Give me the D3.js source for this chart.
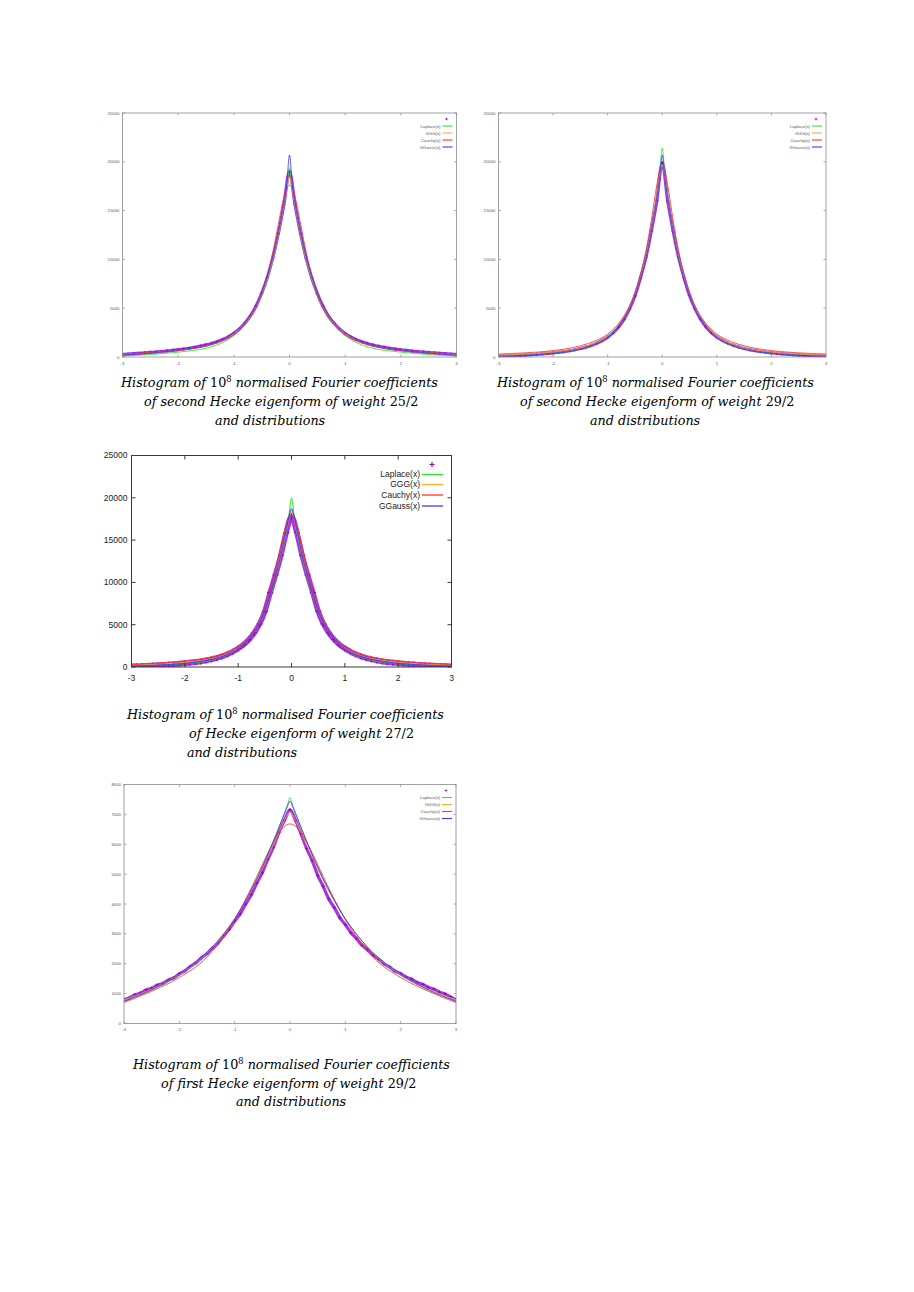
<!DOCTYPE html>
<html><head><meta charset="utf-8">
<script src="https://cdn.jsdelivr.net/npm/d3@7"></script>
<style>body{margin:0;background:#fff}</style>
</head><body>
<svg id="c" width="914" height="1292" xmlns="http://www.w3.org/2000/svg"></svg>
<script>
// ---------- data ----------
const xTicks = [-3,-2,-1,0,1,2,3];
const yTicksA = [0,5000,10000,15000,20000,25000];
const yTicksB = [0,1000,2000,3000,4000,5000,6000,7000,8000];
const seriesNames = ["Laplace(x)","GGG(x)","Cauchy(x)","GGauss(x)"];

const histX = [-3,-2.9,-2.8,-2.7,-2.6,-2.5,-2.4,-2.3,-2.2,-2.1,-2,-1.9,-1.8,-1.7,-1.6,-1.5,-1.4,-1.3,-1.2,-1.1,-1,-0.9,-0.8,-0.7,-0.6,-0.5,-0.4,-0.3,-0.2,-0.1,0,0.1,0.2,0.3,0.4,0.5,0.6,0.7,0.8,0.9,1,1.1,1.2,1.3,1.4,1.5,1.6,1.7,1.8,1.9,2,2.1,2.2,2.3,2.4,2.5,2.6,2.7,2.8,2.9,3];
const curveX = [-3,-2.5,-2,-1.5,-1.25,-1,-0.75,-0.6,-0.45,-0.3,-0.2,-0.1,-0.05,0,0.05,0.1,0.2,0.3,0.45,0.6,0.75,1,1.25,1.5,2,2.5,3];

// chart 1: second Hecke eigenform, weight 25/2
const hist1 = [260,300,345,385,425,470,515,565,620,680,750,820,900,1000,1110,1240,1390,1570,1790,2060,2420,2870,3480,4230,5230,6530,8130,10150,12650,15650,19000,15600,12600,10100,8100,6500,5200,4200,3450,2850,2400,2050,1780,1560,1380,1230,1100,990,890,810,740,670,610,560,510,460,420,380,340,300,270];
const laplace1 = [110,250,500,900,1350,2200,3650,5100,7100,9900,12400,15500,17300,19400,17300,15500,12400,9900,7100,5100,3650,2200,1350,900,500,250,110];
const ggg1 = [250,420,700,1180,1600,2400,3850,5200,7300,10100,12600,15600,17200,18400,17200,15600,12600,10100,7300,5200,3850,2400,1600,1180,700,420,250];
const cauchy1 = [310,450,680,1120,1550,2300,3700,5100,7300,10700,13600,16400,17300,17600,17300,16400,13600,10700,7300,5100,3700,2300,1550,1120,680,450,310];
const ggauss1 = [200,400,720,1200,1650,2500,3900,5300,7400,10200,12700,15700,17600,20700,17600,15700,12700,10200,7400,5300,3900,2500,1650,1200,720,400,200];

// chart 2: second Hecke eigenform, weight 29/2
const hist2 = [70,95,115,135,160,195,235,275,315,365,425,485,555,645,745,865,1010,1190,1410,1690,2040,2490,3080,3880,4930,6270,8080,10180,12880,15980,19900,16000,12900,10200,8100,6300,4950,3900,3100,2500,2050,1700,1420,1200,1020,870,750,650,560,490,430,370,320,280,240,200,170,140,120,100,80];
const laplace2 = [130,230,420,800,1250,2050,3600,5000,7200,10200,13000,16500,18600,21400,18600,16500,13000,10200,7200,5000,3600,2050,1250,800,420,230,130];
const ggg2 = [200,320,520,950,1400,2150,3700,5100,7300,10300,13000,16300,18300,19700,18300,16300,13000,10300,7300,5100,3700,2150,1400,950,520,320,200];
const cauchy2 = [300,430,650,1150,1600,2350,3800,5200,7400,10800,14000,17600,19000,19400,19000,17600,14000,10800,7400,5200,3800,2350,1600,1150,650,430,300];
const ggauss2 = [70,180,380,800,1250,2000,3550,4950,7100,10100,12900,16300,18200,20700,18200,16300,12900,10100,7100,4950,3550,2000,1250,800,380,180,70];

// chart 3: Hecke eigenform, weight 27/2
const hist3 = [75,95,115,145,175,205,245,285,325,375,435,495,565,655,765,895,1055,1250,1500,1810,2190,2640,3240,4040,5080,6580,8780,10880,13180,15880,17800,15900,13200,10900,8800,6600,5100,4050,3250,2650,2200,1820,1510,1260,1060,900,770,660,570,500,440,380,330,290,250,210,180,150,120,100,80];
const laplace3 = [110,210,400,850,1300,2150,3700,5200,7400,10500,13000,16000,17800,20000,17800,16000,13000,10500,7400,5200,3700,2150,1300,850,400,210,110];
const ggg3 = [210,330,540,980,1450,2250,3800,5300,7600,10800,13300,16100,17500,18300,17500,16100,13300,10800,7600,5300,3800,2250,1450,980,540,330,210];
const cauchy3 = [320,470,720,1200,1650,2400,3850,5400,7800,11200,14100,16700,17600,17900,17600,16700,14100,11200,7800,5400,3850,2400,1650,1200,720,470,320];
const ggauss3 = [90,210,420,900,1350,2150,3700,5200,7500,10700,13200,16200,17700,18700,17700,16200,13200,10700,7500,5200,3700,2150,1350,900,420,210,90];

// chart 4: first Hecke eigenform, weight 29/2
const hist4 = [800,860,960,1020,1120,1180,1280,1340,1450,1530,1660,1760,1910,2030,2200,2340,2530,2700,2930,3150,3430,3670,4000,4310,4700,5050,5500,5900,6400,6800,7150,6800,6350,5860,5460,4960,4590,4170,3880,3540,3310,3040,2850,2620,2470,2290,2160,2000,1890,1750,1670,1550,1480,1370,1310,1210,1150,1050,990,890,790];
const laplace4 = [760,1120,1620,2350,2870,3500,4300,4850,5450,6100,6570,7050,7300,7560,7300,7050,6570,6100,5450,4850,4300,3500,2870,2350,1620,1120,760];
const ggg4 = [790,1150,1640,2360,2870,3500,4280,4800,5380,5980,6400,6800,6980,7080,6980,6800,6400,5980,5380,4800,4280,3500,2870,2360,1640,1150,790];
const cauchy4 = [700,1080,1540,2220,2780,3480,4350,4920,5520,6080,6390,6600,6660,6680,6660,6600,6390,6080,5520,4920,4350,3480,2780,2220,1540,1080,700];
const ggauss4 = [740,1130,1640,2370,2880,3500,4290,4830,5440,6100,6560,7020,7250,7450,7250,7020,6560,6100,5440,4830,4290,3500,2880,2370,1640,1130,740];

const caption1 = ["second Hecke eigenform of weight ","25/2"];
const caption2 = ["second Hecke eigenform of weight ","29/2"];
const caption3 = ["Hecke eigenform of weight ","27/2"];
const caption4 = ["first Hecke eigenform of weight ","29/2"];

// ---------- styles ----------
const colors = ["#2ee62e","#ffaa2a","#ff3434","#3b3bff"];
const purple = "#9400d3";

const svg = d3.select("#c");

const panels = [
  {box:[122.5,113,456.5,357], yMax:25000, yTicks:yTicksA, big:false, hist:hist1, curves:[laplace1,ggg1,cauchy1,ggauss1],
   cap:caption1, capPos:[[121,387],[144,406],[215,425]]},
  {box:[498.5,113,826,357], yMax:25000, yTicks:yTicksA, big:false, hist:hist2, curves:[laplace2,ggg2,cauchy2,ggauss2],
   cap:caption2, capPos:[[497,387],[520,406],[590,425]]},
  {box:[131.5,455.5,451.5,667], yMax:25000, yTicks:yTicksA, big:true, hist:hist3, curves:[laplace3,ggg3,cauchy3,ggauss3],
   cap:caption3, capPos:[[127,719],[189,738],[187,757]]},
  {box:[124,784.5,456,1023.5], yMax:8000, yTicks:yTicksB, big:false, hist:hist4, curves:[laplace4,ggg4,cauchy4,ggauss4],
   cap:caption4, capPos:[[133,1069],[161,1088],[236,1106]]}
];

panels.forEach((p,pi) => {
  const [x0,y0,x1,y1] = p.box;
  const x = d3.scaleLinear().domain([-3,3]).range([x0,x1]);
  const y = d3.scaleLinear().domain([0,p.yMax]).range([y1,y0]);
  const g = svg.append("g");
  const big = p.big;
  const clipId = "clip"+pi;
  svg.append("clipPath").attr("id",clipId).append("rect")
     .attr("x",x0).attr("y",y0-2).attr("width",x1-x0).attr("height",y1-y0+2);
  const plot = g.append("g").attr("clip-path",`url(#${clipId})`);

  // histogram (purple band of + points)
  const hp = histX.map((v,i)=>[v,p.hist[i]]);
  plot.append("path").datum(hp)
    .attr("d", d3.line().x(d=>x(d[0])).y(d=>y(d[1])).curve(d3.curveMonotoneX))
    .attr("fill","none").attr("stroke",purple).attr("stroke-width", big?5.5:3.2)
    .attr("stroke-opacity",0.8).attr("stroke-linejoin","round");
  const s = big?3:1.7;
  plot.selectAll(".pt").data(hp).enter().append("path")
    .attr("d", d=>`M${x(d[0])-s},${y(d[1])}h${2*s}M${x(d[0])},${y(d[1])-s}v${2*s}`)
    .attr("stroke",purple).attr("stroke-width", big?1.2:0.9).attr("fill","none");

  // distribution curves
  const line = d3.line().x(d=>x(d[0])).y(d=>y(d[1])).curve(d3.curveMonotoneX);
  p.curves.forEach((c,ci) => {
    plot.append("path").datum(curveX.map((v,i)=>[v,c[i]]))
      .attr("d",line).attr("fill","none").attr("stroke",colors[ci])
      .attr("stroke-width", big?1.3:1.0).attr("stroke-opacity",0.85);
  });

  // frame
  const frameCol = big ? "#3a3a3a" : "#8a8a8a";
  g.append("rect").attr("x",x0).attr("y",y0).attr("width",x1-x0).attr("height",y1-y0)
    .attr("fill","none").attr("stroke",frameCol).attr("stroke-width",big?1:0.8);

  const tl = big?4:2.5;
  const fs = big?8.5:4.3;
  const labCol = big ? "#222" : "#555";
  const font = "Liberation Sans, Arial, sans-serif";
  xTicks.forEach(t => {
    const xx = x(t);
    g.append("line").attr("x1",xx).attr("x2",xx).attr("y1",y1).attr("y2",y1-tl).attr("stroke",frameCol).attr("stroke-width",big?1:0.7);
    g.append("line").attr("x1",xx).attr("x2",xx).attr("y1",y0).attr("y2",y0+tl).attr("stroke",frameCol).attr("stroke-width",big?1:0.7);
    g.append("text").attr("x",xx).attr("y",y1+(big?14:7.5)).attr("text-anchor","middle")
      .attr("font-family",font).attr("font-size",fs).attr("fill",labCol).text(t);
  });
  p.yTicks.forEach(t => {
    const yy = y(t);
    g.append("line").attr("x1",x0).attr("x2",x0+tl).attr("y1",yy).attr("y2",yy).attr("stroke",frameCol).attr("stroke-width",big?1:0.7);
    g.append("line").attr("x1",x1).attr("x2",x1-tl).attr("y1",yy).attr("y2",yy).attr("stroke",frameCol).attr("stroke-width",big?1:0.7);
    g.append("text").attr("x",x0-(big?4:3)).attr("y",yy+fs*0.35).attr("text-anchor","end")
      .attr("font-family",font).attr("font-size",fs).attr("fill",labCol).text(t);
  });

  // legend
  const L = big ? {mx:x1-19.5, my:y0+9, tx:x1-31.5, la:x1-29.5, lb:x1-8.5, rows:[19,29,39.5,50.5], ms:2.5}
                : {mx:x1-10, my:y0+6, tx:x1-16, la:x1-14, lb:x1-4, rows:[13,20,27,34], ms:1.3};
  g.append("path").attr("d",`M${L.mx-L.ms},${L.my}h${2*L.ms}M${L.mx},${L.my-L.ms}v${2*L.ms}`)
    .attr("stroke",purple).attr("stroke-width",big?1.2:0.8);
  seriesNames.forEach((n,i) => {
    const ry = y0 + L.rows[i];
    g.append("text").attr("x",L.tx).attr("y",ry+fs*0.35).attr("text-anchor","end")
      .attr("font-family",font).attr("font-size",fs).attr("fill",labCol).text(n);
    g.append("line").attr("x1",L.la).attr("x2",L.lb).attr("y1",ry).attr("y2",ry)
      .attr("stroke",colors[i]).attr("stroke-width",big?1.3:1.1);
  });

  // caption
  const cf = "DejaVu Serif, serif";
  const capG = svg.append("g").attr("font-family",cf).attr("font-size",13).attr("fill","#000");
  const lines = [
    [["i","Histogram of "],["u","10"],["s","8"],["i"," normalised Fourier coefficients"]],
    [["i","of "+p.cap[0]],["u",p.cap[1]]],
    [["i","and distributions"]]
  ];
  const texts = lines.map((parts,li) => {
    const t = capG.append("text").attr("x",0).attr("y",0)
      .attr("transform",`translate(${p.capPos[li][0]},${p.capPos[li][1]})`);
    parts.forEach(([k,str]) => {
      const ts = t.append("tspan").text(str)
        .attr("font-style", k==="i" ? "italic" : "normal");
      if (k==="s") ts.attr("font-size",8.5).attr("dy",-5.5);
      else if (k==="i" && str.startsWith(" normalised")) ts.attr("dy",5.5);
    });
    return t;
  });
  const w0 = texts[0].node().getComputedTextLength();
  const sc = 317 / w0;
  texts.forEach((t,li) => t.attr("transform",`translate(${p.capPos[li][0]},${p.capPos[li][1]}) scale(${sc},1)`));
});
</script>
</body></html>
